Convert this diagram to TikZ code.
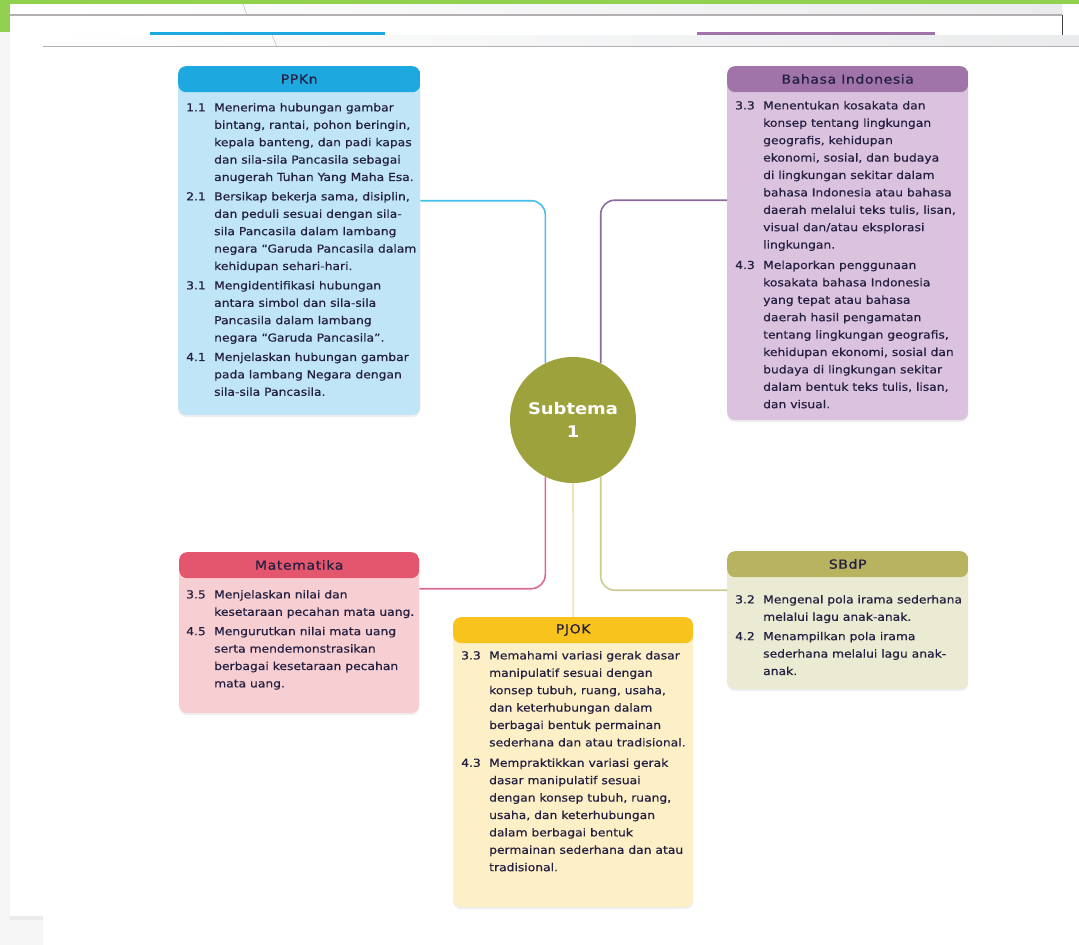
\documentclass[tikz,border=0pt]{standalone}
\usepackage{fontspec}
\setmainfont{DejaVu Sans}[FakeStretch=1.12]
\newfontfamily\isifont{DejaVu Sans}[FakeStretch=1.12, FakeBold=0.5]
\newfontfamily\judulfont{DejaVu Sans}[FakeStretch=1.12, LetterSpace=5, FakeBold=0.6]
\usetikzlibrary{shadows}

\definecolor{framegreen}{HTML}{92D050}
\definecolor{pagegray}{HTML}{F6F6F6}
\definecolor{bandgray}{HTML}{E9EBEC}
\definecolor{linegray}{HTML}{B4B0B2}
\definecolor{inkdark}{HTML}{231F40}
\definecolor{ppknhead}{HTML}{1EA8E0}
\definecolor{ppknbody}{HTML}{C0E5F7}
\definecolor{ppknlink}{HTML}{45C0E8}
\definecolor{bahasahead}{HTML}{A074A8}
\definecolor{bahasabody}{HTML}{DBC3DF}
\definecolor{bahasalink}{HTML}{8C6B9D}
\definecolor{mathead}{HTML}{E4566E}
\definecolor{matbody}{HTML}{F7CFD3}
\definecolor{matlink}{HTML}{D96A90}
\definecolor{pjokhead}{HTML}{F7C31C}
\definecolor{pjokbody}{HTML}{FDEFC6}
\definecolor{pjoklink}{HTML}{F3E2B2}
\definecolor{sbdphead}{HTML}{B8B35F}
\definecolor{sbdpbody}{HTML}{EBEAD2}
\definecolor{sbdplink}{HTML}{CBCB92}
\definecolor{subtemagreen}{HTML}{9EA23C}

\tikzset{
	kotak/.style={rounded corners=8pt, inner sep=0pt, anchor=north west,
		drop shadow={opacity=0.12, shadow xshift=0pt, shadow yshift=-2pt},
		path picture={\fill[#1] (path picture bounding box.north west)
			rectangle ([yshift=-26pt]path picture bounding box.north east);}},
	judul/.style={text=inkdark, font=\judulfont\fontsize{12.5}{14}\selectfont},
	isi/.style={anchor=north west, inner sep=0pt, text=inkdark,
		font=\isifont\fontsize{11}{17.4}\selectfont},
	link/.style={line width=1.6pt, rounded corners=14pt},
	pita/.style={left color=white, right color=bandgray}
}

\begin{document}
\begin{tikzpicture}[x=1pt, y=-1pt]

		\useasboundingbox (0,0) rectangle (1079,945);

		% latar halaman
		\fill[white] (0,0) rectangle (1079,945);
		\fill[pagegray] (0,0) rectangle (10,945);
		\fill[pagegray] (0,916) rectangle (43,945);
		\fill[bandgray] (10,916) rectangle (43,920);

		% bingkai layar
		\fill[framegreen] (0,0) rectangle (1079,4);
		\fill[framegreen] (0,0) rectangle (10,32);
		\shade[pita] (10,4) rectangle (1062,15);
		\draw[linegray, line width=1.5pt] (10,15) -- (1062,15);
		\draw[darkgray, line width=1pt] (1062,15) -- (1062,35);
		\draw[linegray, thin] (243,4) -- (247,15);
		\fill[ppknhead] (150,32) rectangle (385,35);
		\fill[bahasahead] (697,32) rectangle (935,35);
		\shade[pita] (43,35) rectangle (1079,46);
		\draw[linegray, line width=1.5pt] (43,46.5) -- (1079,46.5);
		\draw[linegray, thin] (272,35) -- (277,47);

		% PPKn
		\node[kotak=ppknhead, fill=ppknbody, minimum width=242pt, minimum height=349pt] (ppkn) at (178,66) {};
		\node[judul] (ppkn-judul) at ([yshift=-13pt]ppkn.north) {PPKn};
		\node[isi] (ppkn-isi) at (186,99) {\begin{tabular}{@{}p{28pt}@{}l@{}}
			1.1 & Menerima hubungan gambar\\
			    & bintang, rantai, pohon beringin,\\
			    & kepala banteng, dan padi kapas\\
			    & dan sila-sila Pancasila sebagai\\
			    & anugerah Tuhan Yang Maha Esa.\\[2pt]
			2.1 & Bersikap bekerja sama, disiplin,\\
			    & dan peduli sesuai dengan sila-\\
			    & sila Pancasila dalam lambang\\
			    & negara “Garuda Pancasila dalam\\
			    & kehidupan sehari-hari.\\[2pt]
			3.1 & Mengidentifikasi hubungan\\
			    & antara simbol dan sila-sila\\
			    & Pancasila dalam lambang\\
			    & negara “Garuda Pancasila”.\\[2pt]
			4.1 & Menjelaskan hubungan gambar\\
			    & pada lambang Negara dengan\\
			    & sila-sila Pancasila.
		\end{tabular}};

		% Bahasa Indonesia
		\node[kotak=bahasahead, fill=bahasabody, minimum width=241pt, minimum height=354pt] (bahasa) at (727,66) {};
		\node[judul] (bahasa-judul) at ([yshift=-13pt]bahasa.north) {Bahasa Indonesia};
		\node[isi] (bahasa-isi) at (735,97) {\begin{tabular}{@{}p{28pt}@{}l@{}}
			3.3 & Menentukan kosakata dan\\
			    & konsep tentang lingkungan\\
			    & geografis, kehidupan\\
			    & ekonomi, sosial, dan budaya\\
			    & di lingkungan sekitar dalam\\
			    & bahasa Indonesia atau bahasa\\
			    & daerah melalui teks tulis, lisan,\\
			    & visual dan/atau eksplorasi\\
			    & lingkungan.\\[3pt]
			4.3 & Melaporkan penggunaan\\
			    & kosakata bahasa Indonesia\\
			    & yang tepat atau bahasa\\
			    & daerah hasil pengamatan\\
			    & tentang lingkungan geografis,\\
			    & kehidupan ekonomi, sosial dan\\
			    & budaya di lingkungan sekitar\\
			    & dalam bentuk teks tulis, lisan,\\
			    & dan visual.
		\end{tabular}};

		% Matematika
		\node[kotak=mathead, fill=matbody, minimum width=240pt, minimum height=161pt] (mat) at (179,552) {};
		\node[judul] (mat-judul) at ([yshift=-13pt]mat.north) {Matematika};
		\node[isi] (mat-isi) at (186,586) {\begin{tabular}{@{}p{28pt}@{}l@{}}
			3.5 & Menjelaskan nilai dan\\
			    & kesetaraan pecahan mata uang.\\[2pt]
			4.5 & Mengurutkan nilai mata uang\\
			    & serta mendemonstrasikan\\
			    & berbagai kesetaraan pecahan\\
			    & mata uang.
		\end{tabular}};

		% PJOK
		\node[kotak=pjokhead, fill=pjokbody, minimum width=240pt, minimum height=290pt] (pjok) at (453,617) {};
		\node[judul] (pjok-judul) at ([yshift=-13pt]pjok.north) {PJOK};
		\node[isi] (pjok-isi) at (461,647) {\begin{tabular}{@{}p{28pt}@{}l@{}}
			3.3 & Memahami variasi gerak dasar\\
			    & manipulatif sesuai dengan\\
			    & konsep tubuh, ruang, usaha,\\
			    & dan keterhubungan dalam\\
			    & berbagai bentuk permainan\\
			    & sederhana dan atau tradisional.\\[3pt]
			4.3 & Mempraktikkan variasi gerak\\
			    & dasar manipulatif sesuai\\
			    & dengan konsep tubuh, ruang,\\
			    & usaha, dan keterhubungan\\
			    & dalam berbagai bentuk\\
			    & permainan sederhana dan atau\\
			    & tradisional.
		\end{tabular}};

		% SBdP
		\node[kotak=sbdphead, fill=sbdpbody, minimum width=241pt, minimum height=138pt] (sbdp) at (727,551) {};
		\node[judul] (sbdp-judul) at ([yshift=-13pt]sbdp.north) {SBdP};
		\node[isi] (sbdp-isi) at (735,591) {\begin{tabular}{@{}p{28pt}@{}l@{}}
			3.2 & Mengenal pola irama sederhana\\
			    & melalui lagu anak-anak.\\[2pt]
			4.2 & Menampilkan pola irama\\
			    & sederhana melalui lagu anak-\\
			    & anak.
		\end{tabular}};

		% Subtema
		\node[circle, fill=subtemagreen, minimum size=126pt, inner sep=0pt, text=white, align=center,
			font=\bfseries\fontsize{16}{23}\selectfont] (subtema) at (573,420) {Subtema\\1};

		% garis penghubung
		\draw[link, ppknlink] ([yshift=40pt]ppkn.east) -| (subtema.116);
		\draw[link, bahasalink] ([yshift=43pt]bahasa.west) -| (subtema.64);
		\draw[link, matlink] (subtema.244) |- ([yshift=44pt]mat.east);
		\draw[link, sbdplink] (subtema.296) |- ([yshift=30pt]sbdp.west);
		\draw[link, pjoklink] (subtema.south) -- (pjok.north);

\end{tikzpicture}
\end{document}
